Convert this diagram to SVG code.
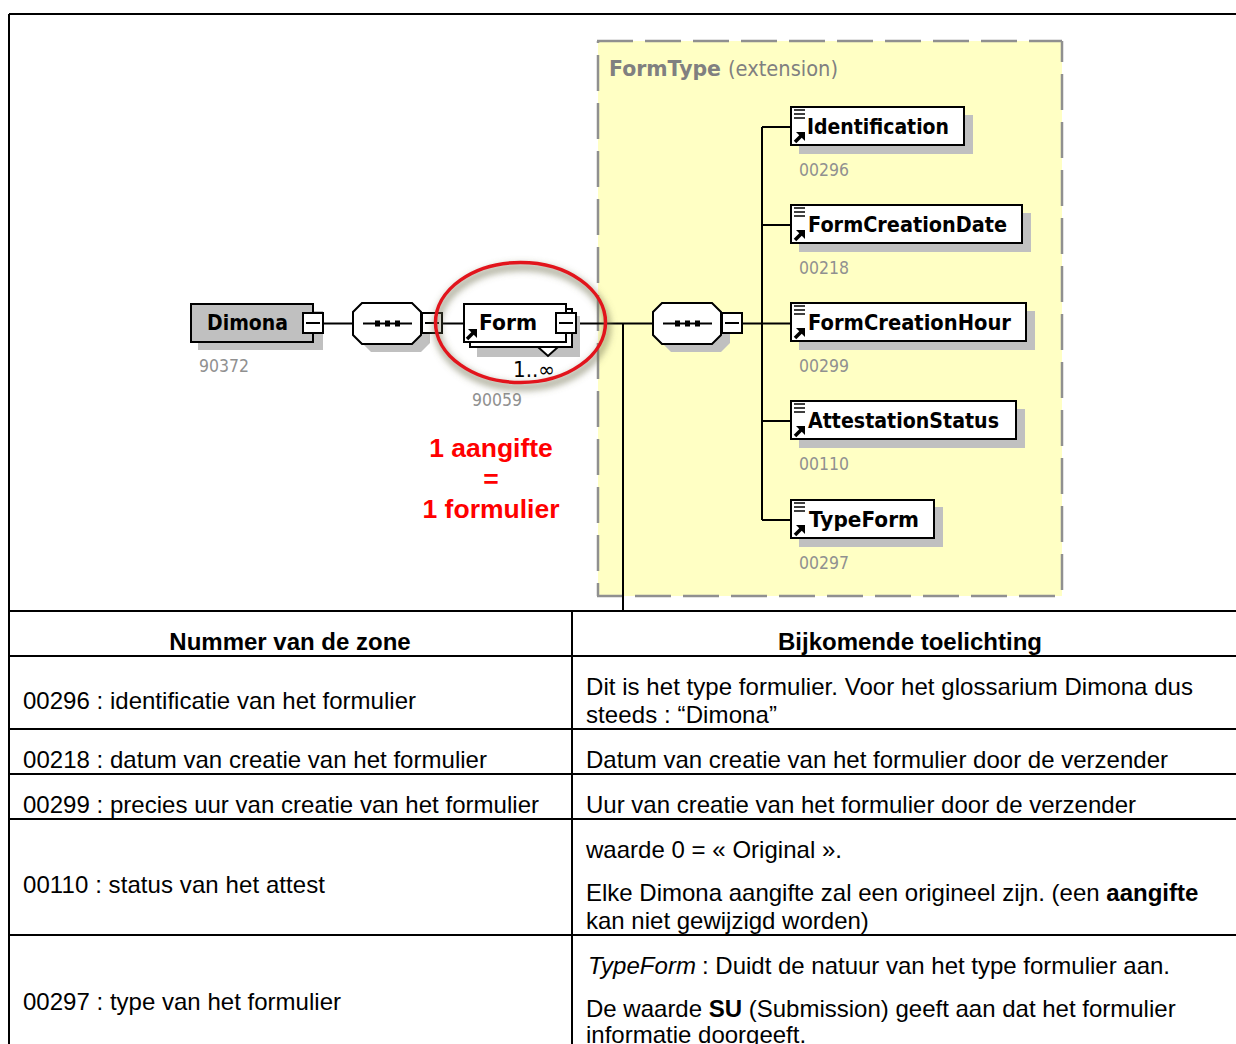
<svg xmlns="http://www.w3.org/2000/svg" width="1236" height="1044" viewBox="0 0 1236 1044">
<style>
.ln{stroke:#000;stroke-width:2;fill:none}
.box{fill:#fff;stroke:#000;stroke-width:2}
.sh{fill:#c0c0c0;stroke:none}
.nm{font:bold 22px "DejaVu Sans",sans-serif;fill:#000}
.id{font:18px "DejaVu Sans",sans-serif;fill:#909090}
.t{font:24px "Liberation Sans",Arial,sans-serif;fill:#000}
.i{font:italic 24px "Liberation Sans",Arial,sans-serif;fill:#000}
.h{font:bold 24px "Liberation Sans",Arial,sans-serif;fill:#000;text-anchor:middle}
.r{font:bold 26.500px "Liberation Sans",Arial,sans-serif;fill:#f00;text-anchor:middle}
.dash{stroke:#909090;stroke-width:2.500;fill:none;stroke-dasharray:36 12}
</style>
<defs>
<filter id="blur" x="-20%" y="-20%" width="140%" height="140%"><feGaussianBlur stdDeviation="3.500"/></filter>
<g id="mark"><path d="M1 10l6-6" stroke="#000" stroke-width="3.500" fill="none"/><path d="M2 0h9v9z" fill="#000"/></g>
<g id="lines"><path d="M0 1h11M0 5h11M0 9h11" stroke="#000" stroke-width="1.500" fill="none"/></g>
<g id="minus"><rect class="box" x="0" y="0" width="20" height="20"/><path d="M3 10h14" stroke="#000" stroke-width="2"/></g>
<g id="seq"><path class="sh" d="M371 311h50l9 9v23l-9 9h-50l-9-9v-23z"/><path class="box" d="M362 303h50l9 9v23l-9 9h-50l-9-9v-23z"/><path d="M363 323.500h49" stroke="#000" stroke-width="2"/><rect x="375" y="320.500" width="5" height="6"/><rect x="385" y="320.500" width="5" height="6"/><rect x="395" y="320.500" width="5" height="6"/></g>
</defs>
<rect width="1236" height="1044" fill="#fff"/>
<g id="formtype">
<rect x="598" y="41" width="464" height="555" fill="#ffffc4"/>
<path class="dash" d="M597 41H1062"/>
<path class="dash" style="stroke-dashoffset:15" d="M1062 41V596"/>
<path class="dash" style="stroke-dashoffset:10" d="M597 596H1062"/>
<path class="dash" style="stroke-dashoffset:34" d="M598 41V596"/>
<text x="609" y="76" font-family="DejaVu Sans,sans-serif" font-size="22" font-weight="bold" fill="#808080" textLength="112" lengthAdjust="spacingAndGlyphs">FormType</text>
<text x="728" y="76" font-family="DejaVu Sans,sans-serif" font-size="22" fill="#808080" textLength="110" lengthAdjust="spacingAndGlyphs">(extension)</text>
</g>
<g id="connectors">
<path class="ln" d="M323 323.500h30M442 323.500h21M576 323.500h77M743 323.500h48M623 323.500V611M762 127V520M762 127h29M762 225h29M762 421h29M762 520h29"/>
</g>
<g id="dimona">
<rect class="sh" x="198" y="311" width="125" height="39"/>
<rect x="191" y="304" width="122" height="38" fill="#c0c0c0" stroke="#000" stroke-width="2"/>
<text class="nm" x="207" y="330" textLength="81" lengthAdjust="spacingAndGlyphs">Dimona</text>
<use href="#minus" x="303" y="313"/>
<text class="id" x="199" y="372" textLength="50" lengthAdjust="spacingAndGlyphs">90372</text>
</g>
<g id="seq1"><use href="#seq"/><use href="#minus" x="422" y="313"/></g>
<g id="form">
<rect class="sh" x="477" y="316" width="103" height="41"/>
<rect class="box" x="470" y="309" width="102" height="38"/>
<rect class="box" x="464" y="304" width="102" height="38"/>
<path class="box" d="M538 347l10 9 10-9z"/>
<use href="#mark" x="466" y="329"/>
<text class="nm" x="479" y="330" textLength="58" lengthAdjust="spacingAndGlyphs">Form</text>
<use href="#minus" x="556" y="313"/>
<text x="513" y="377" font-family="DejaVu Sans,sans-serif" font-size="21" fill="#000" textLength="42" lengthAdjust="spacingAndGlyphs">1..∞</text>
<text class="id" x="472" y="406" textLength="50" lengthAdjust="spacingAndGlyphs">90059</text>
</g>
<g id="seq2"><use href="#seq" x="300"/><use href="#minus" x="722" y="313"/></g>
<g id="identification">
<rect class="sh" x="799" y="115" width="174" height="39"/><rect class="box" x="791" y="107" width="173" height="38"/>
<use href="#lines" x="794" y="109"/><use href="#mark" x="794" y="132"/>
<text class="nm" x="807" y="134" textLength="142" lengthAdjust="spacingAndGlyphs">Identification</text><text class="id" x="799" y="176" textLength="50" lengthAdjust="spacingAndGlyphs">00296</text>
</g>
<g id="formcreationdate">
<rect class="sh" x="799" y="213" width="232" height="39"/><rect class="box" x="791" y="205" width="231" height="38"/>
<use href="#lines" x="794" y="207"/><use href="#mark" x="794" y="230"/>
<text class="nm" x="808" y="232" textLength="199" lengthAdjust="spacingAndGlyphs">FormCreationDate</text><text class="id" x="799" y="274" textLength="50" lengthAdjust="spacingAndGlyphs">00218</text>
</g>
<g id="formcreationhour">
<rect class="sh" x="799" y="311" width="236" height="39"/><rect class="box" x="791" y="303" width="235" height="38"/>
<use href="#lines" x="794" y="305"/><use href="#mark" x="794" y="328"/>
<text class="nm" x="808" y="330" textLength="203" lengthAdjust="spacingAndGlyphs">FormCreationHour</text><text class="id" x="799" y="372" textLength="50" lengthAdjust="spacingAndGlyphs">00299</text>
</g>
<g id="attestationstatus">
<rect class="sh" x="799" y="409" width="226" height="39"/><rect class="box" x="791" y="401" width="225" height="38"/>
<use href="#lines" x="794" y="403"/><use href="#mark" x="794" y="426"/>
<text class="nm" x="808" y="428" textLength="191" lengthAdjust="spacingAndGlyphs">AttestationStatus</text><text class="id" x="799" y="470" textLength="50" lengthAdjust="spacingAndGlyphs">00110</text>
</g>
<g id="typeform">
<rect class="sh" x="799" y="507" width="144" height="40"/><rect class="box" x="791" y="500" width="143" height="38"/>
<use href="#lines" x="794" y="502"/><use href="#mark" x="794" y="525"/>
<text class="nm" x="809" y="527" textLength="110" lengthAdjust="spacingAndGlyphs">TypeForm</text><text class="id" x="799" y="569" textLength="50" lengthAdjust="spacingAndGlyphs">00297</text>
</g>
<g id="highlight">
<ellipse cx="522" cy="327" rx="85" ry="60" fill="none" stroke="#707050" stroke-opacity=".6" stroke-width="7" filter="url(#blur)"/>
<ellipse cx="520.500" cy="322.500" rx="85" ry="60" fill="none" stroke="#e2141c" stroke-width="3.500"/>
</g>
<g id="note">
<text class="r" x="491" y="457">1 aangifte</text><text class="r" x="491" y="488">=</text><text class="r" x="491" y="518">1 formulier</text>
</g>
<g id="table">
<path d="M9 14H1236M9 14V1044M572 611V1044M9 611H1236M9 656H1236M9 729H1236M9 774H1236M9 819H1236M9 935H1236" stroke="#000" stroke-width="2" fill="none"/>
<text class="h" x="290" y="650">Nummer van de zone</text>
<text class="h" x="910" y="650">Bijkomende toelichting</text>
<text class="t" x="23" y="709" textLength="393">00296 : identificatie van het formulier</text>
<text class="t" x="586" y="695" textLength="607">Dit is het type formulier. Voor het glossarium Dimona dus</text>
<text class="t" x="586" y="723" textLength="191">steeds : “Dimona”</text>
<text class="t" x="23" y="768" textLength="464">00218 : datum van creatie van het formulier</text>
<text class="t" x="586" y="768" textLength="582">Datum van creatie van het formulier door de verzender</text>
<text class="t" x="23" y="813" textLength="516">00299 : precies uur van creatie van het formulier</text>
<text class="t" x="586" y="813" textLength="550">Uur van creatie van het formulier door de verzender</text>
<text class="t" x="23" y="893" textLength="302">00110 : status van het attest</text>
<text class="t" x="586" y="858" textLength="256">waarde 0 = « Original ».</text>
<text class="t" x="586" y="901">Elke Dimona aangifte zal een origineel zijn. (een <tspan font-weight="bold">aangifte</tspan></text>
<text class="t" x="586" y="929">kan niet gewijzigd worden)</text>
<text class="t" x="23" y="1010" textLength="318">00297 : type van het formulier</text>
<text class="i" x="588" y="974" textLength="108">TypeForm</text>
<text class="t" x="702" y="974" textLength="468">: Duidt de natuur van het type formulier aan.</text>
<text class="t" x="586" y="1017">De waarde <tspan font-weight="bold">SU</tspan> (Submission) geeft aan dat het formulier</text>
<text class="t" x="586" y="1043">informatie doorgeeft.</text>
</g>
</svg>
